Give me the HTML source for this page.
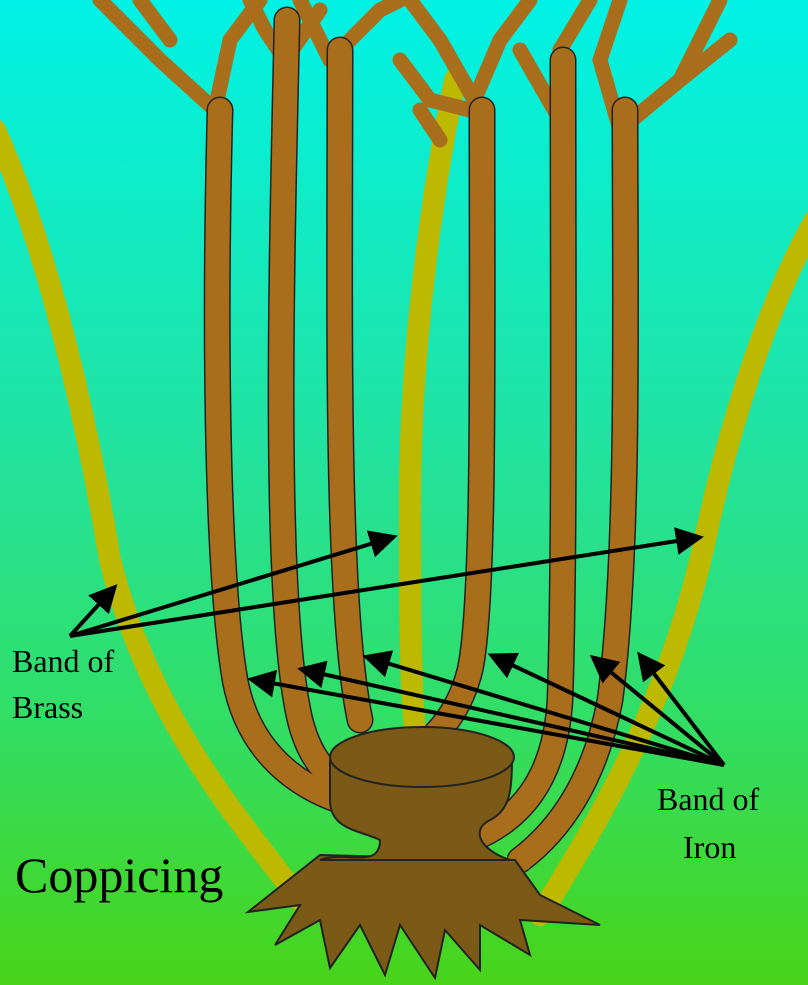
<!DOCTYPE html>
<html><head><meta charset="utf-8"><style>
html,body{margin:0;padding:0;width:808px;height:985px;overflow:hidden}
text{font-family:"Liberation Serif",serif;fill:#000}
</style></head><body>
<svg width="808" height="985" viewBox="0 0 808 985" xmlns="http://www.w3.org/2000/svg">
<defs>
<linearGradient id="bg" x1="0" y1="0" x2="0" y2="1">
<stop offset="0" stop-color="#00f2e6"/>
<stop offset="0.45" stop-color="#22e3a0"/>
<stop offset="0.75" stop-color="#33dd60"/>
<stop offset="1" stop-color="#48d418"/>
</linearGradient>
<marker id="ah" markerWidth="7" markerHeight="7" refX="5" refY="3.5" orient="auto" markerUnits="strokeWidth">
<path d="M0,0 L7,3.5 L0,7 Z" fill="#000"/>
</marker>
</defs>
<rect width="808" height="985" fill="url(#bg)"/>

<g fill="none" stroke="#bdb800" stroke-linecap="round">
<path d="M-5,130 C40,230 80,380 110,560 C150,720 240,820 300,900" stroke-width="22"/>
<path d="M815,220 C770,300 730,420 705,540 C670,700 600,820 540,915" stroke-width="22"/>
<path d="M455,80 C430,200 410,360 410,500 C410,600 410,680 415,730" stroke-width="22"/>
</g>

<g fill="none" stroke="#a86e1c" stroke-width="15" stroke-linecap="round">
<path d="M100,0 L160,60 L215,110"/>
<path d="M215,110 L230,40 L260,0"/>
<path d="M250,0 L265,30 L285,60"/>
<path d="M285,60 L320,10"/>
<path d="M330,60 L380,10 L400,0"/>
<path d="M330,60 L300,0"/>
<path d="M400,60 L430,100 L470,110"/>
<path d="M470,110 L500,40 L530,0"/>
<path d="M480,110 L440,40 L410,0"/>
<path d="M560,120 L560,50 L590,0"/>
<path d="M560,120 L520,50"/>
<path d="M620,130 L680,80 L730,40"/>
<path d="M620,130 L600,60 L620,0"/>
<path d="M680,80 L720,0"/>
<path d="M140,0 L170,40"/>
<path d="M420,110 L440,140"/>
</g>

<g fill="none" stroke="#222" stroke-width="27" stroke-linecap="round">
<path d="M220,110 C215,300 215,560 235,680 C250,760 310,800 380,810"/>
<path d="M287,20 C282,250 272,600 300,720 C310,760 330,780 350,790"/>
<path d="M340,50 C340,300 335,600 360,720"/>
<path d="M482,110 C482,350 485,600 470,670 C460,710 440,730 430,740"/>
<path d="M563,60 C563,300 565,550 560,700 C555,780 520,820 470,840"/>
<path d="M625,110 C625,300 630,550 610,700 C595,780 560,830 520,860"/>
</g>
<g fill="none" stroke="#a86e1c" stroke-width="24" stroke-linecap="round">
<path d="M220,110 C215,300 215,560 235,680 C250,760 310,800 380,810"/>
<path d="M287,20 C282,250 272,600 300,720 C310,760 330,780 350,790"/>
<path d="M340,50 C340,300 335,600 360,720"/>
<path d="M482,110 C482,350 485,600 470,670 C460,710 440,730 430,740"/>
<path d="M563,60 C563,300 565,550 560,700 C555,780 520,820 470,840"/>
<path d="M625,110 C625,300 630,550 610,700 C595,780 560,830 520,860"/>
</g>

<path d="M320,855 L248,912 L300,905 L275,945 L320,920 L330,968 L360,925 L385,975 L400,925 L435,978 L445,930 L480,970 L480,925 L530,955 L520,920 L600,925 L540,895 L515,860 Z" fill="#7a5a16" stroke="#222" stroke-width="2"/>
<path d="M330,760 L330,800 C330,830 360,830 380,840 C380,870 345,850 320,860 L510,860 C480,850 470,830 490,820 C510,810 512,790 512,760 Z" fill="#7a5a16" stroke="#222" stroke-width="2"/>
<ellipse cx="422" cy="757" rx="92" ry="30" fill="#7a5a16" stroke="#222" stroke-width="2"/>

<g stroke="#000" stroke-width="4" fill="none" marker-end="url(#ah)">
<line x1="70" y1="636" x2="112" y2="590"/>
<line x1="70" y1="636" x2="390" y2="538"/>
<line x1="70" y1="636" x2="696" y2="538"/>
<line x1="724" y1="765" x2="255" y2="680"/>
<line x1="724" y1="765" x2="305" y2="670"/>
<line x1="724" y1="765" x2="370" y2="658"/>
<line x1="724" y1="765" x2="495" y2="657"/>
<line x1="724" y1="765" x2="596" y2="660"/>
<line x1="724" y1="765" x2="642" y2="658"/>
</g>

<text x="12" y="672" font-size="32">Band of</text>
<text x="12" y="718" font-size="32">Brass</text>
<text x="657" y="810" font-size="32">Band of</text>
<text x="683" y="858" font-size="32">Iron</text>
<text x="15" y="892" font-size="50">Coppicing</text>
</svg>
</body></html>
